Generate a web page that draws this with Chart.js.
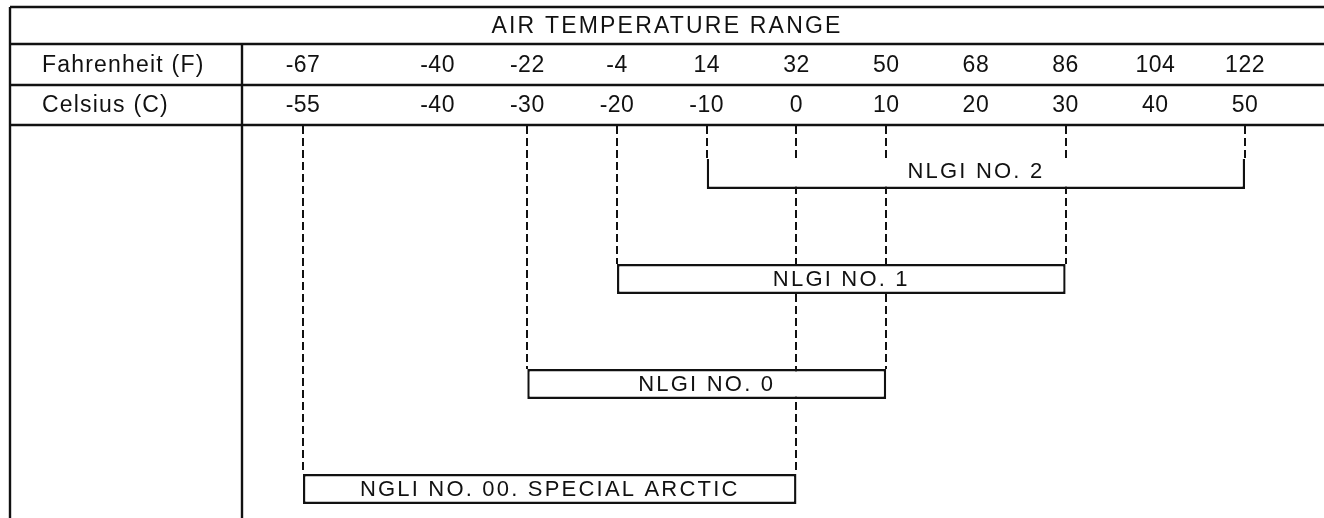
<!DOCTYPE html>
<html>
<head>
<meta charset="utf-8">
<title>Air temperature range</title>
<script src="https://cdn.jsdelivr.net/npm/chart.js@4/dist/chart.umd.min.js"></script>
<style>
  html, body { margin: 0; padding: 0; background: #fff; }
  #wrap { width: 1324px; height: 518px; }
</style>
</head>
<body>
<div id="wrap"><canvas id="rangeChart" width="1324" height="518"></canvas></div>
<script>
'use strict';

/* ========================================================
   Data
   ======================================================== */
const tableTitle      = 'AIR TEMPERATURE RANGE';
const rowTitles       = ['Fahrenheit (F)', 'Celsius (C)'];
const celsiusTicks    = [-55, -40, -30, -20, -10, 0, 10, 20, 30, 40, 50];
const fahrenheitTicks = [-67, -40, -22, -4, 14, 32, 50, 68, 86, 104, 122];
const grades = ['NLGI NO. 2', 'NLGI NO. 1', 'NLGI NO. 0', 'NGLI NO. 00. SPECIAL ARCTIC'];
const lowC   = [-10, -20, -30, -55];
const highC  = [50, 30, 10, 0];

/* ========================================================
   Layout / style
   ======================================================== */
const INK  = '#111111';
const FONT = '"Liberation Sans", Arial, Helvetica, sans-serif';
const TABLE = { left: 10, top: 7, rows: [44, 85, 125], labelCol: 242, textX: 42 };
const openTopGrades = ['NLGI NO. 2'];   // drawn as a bracket, no top edge

/* ========================================================
   Table header, grid and dashed guides (behind the bars)
   ======================================================== */
const tablePlugin = {
  id: 'rangeTable',
  beforeDatasetsDraw(chart) {
    const { ctx } = chart;
    const xScale = chart.scales.x;
    const W = chart.width, H = chart.height;
    const [titleBottom, fRowBottom, cRowBottom] = TABLE.rows;

    ctx.save();
    ctx.strokeStyle = INK;
    ctx.lineWidth = 2.4;

    // frame and row rules
    ctx.beginPath();
    [TABLE.top, ...TABLE.rows].forEach(y => { ctx.moveTo(TABLE.left, y); ctx.lineTo(W, y); });
    ctx.moveTo(TABLE.left, TABLE.top); ctx.lineTo(TABLE.left, H);
    ctx.moveTo(TABLE.labelCol, titleBottom); ctx.lineTo(TABLE.labelCol, H);
    ctx.stroke();

    // dashed guides from the header down to each range end
    const meta = chart.getDatasetMeta(0);
    ctx.lineWidth = 2;
    ctx.beginPath();
    meta.data.forEach(bar => {
      const { x, base, y, height } = bar.getProps(['x', 'base', 'y', 'height'], true);
      const top = y - height / 2;
      [base, x].forEach(px => {
        const sx = Math.round(px);
        ctx.moveTo(sx, cRowBottom + 1);
        ctx.lineTo(sx, top);
      });
    });
    ctx.setLineDash([8, 4]);
    ctx.stroke();
    ctx.setLineDash([]);

    // header text
    ctx.fillStyle = INK;
    ctx.textBaseline = 'middle';
    ctx.font = `23px ${FONT}`;
    ctx.letterSpacing = '2.2px';
    ctx.textAlign = 'center';
    ctx.fillText(tableTitle, (TABLE.left + W) / 2, (TABLE.top + titleBottom) / 2 + 1);

    ctx.letterSpacing = '1.2px';
    ctx.textAlign = 'left';
    ctx.fillText(rowTitles[0], TABLE.textX, (titleBottom + fRowBottom) / 2 + 1);
    ctx.fillText(rowTitles[1], TABLE.textX, (fRowBottom + cRowBottom) / 2 + 1);

    ctx.letterSpacing = '0.5px';
    ctx.textAlign = 'center';
    celsiusTicks.forEach((c, i) => {
      const px = xScale.getPixelForValue(c);
      ctx.fillText(String(fahrenheitTicks[i]), px, (titleBottom + fRowBottom) / 2 + 1);
      ctx.fillText(String(c), px, (fRowBottom + cRowBottom) / 2 + 1);
    });
    ctx.restore();
  },

  // grade names centred in their bars
  afterDatasetsDraw(chart) {
    const { ctx } = chart;
    const meta = chart.getDatasetMeta(0);
    ctx.save();
    ctx.fillStyle = INK;
    ctx.font = `22px ${FONT}`;
    ctx.letterSpacing = '2.2px';
    ctx.textAlign = 'center';
    ctx.textBaseline = 'middle';
    meta.data.forEach((bar, i) => {
      const { x, base, y } = bar.getProps(['x', 'base', 'y'], true);
      const dy = openTopGrades.includes(grades[i]) ? -2 : 1;
      ctx.fillText(grades[i], (x + base) / 2, y + dy);
    });
    ctx.restore();
  }
};

/* ========================================================
   Chart
   ======================================================== */
new Chart(document.getElementById('rangeChart'), {
  type: 'bar',
  data: {
    labels: grades,
    datasets: [{
      data: grades.map((_, i) => [lowC[i], highC[i]]),
      backgroundColor: '#ffffff',
      borderColor: INK,
      borderWidth: 2.4,
      borderSkipped: ctx => openTopGrades.includes(grades[ctx.dataIndex]) ? 'top' : false,
      barThickness: 30,
      inflateAmount: 0,
      clip: false
    }]
  },
  options: {
    indexAxis: 'y',
    responsive: false,
    animation: false,
    devicePixelRatio: 1,
    events: [],
    layout: { padding: { left: TABLE.labelCol, right: 0, top: 174, bottom: 29 } },
    plugins: { legend: { display: false }, tooltip: { enabled: false } },
    scales: {
      x: { type: 'linear', min: -61.8, max: 58.8, display: false },
      y: { type: 'category', offset: false, display: false }
    }
  },
  plugins: [tablePlugin]
});
</script>
</body>
</html>
